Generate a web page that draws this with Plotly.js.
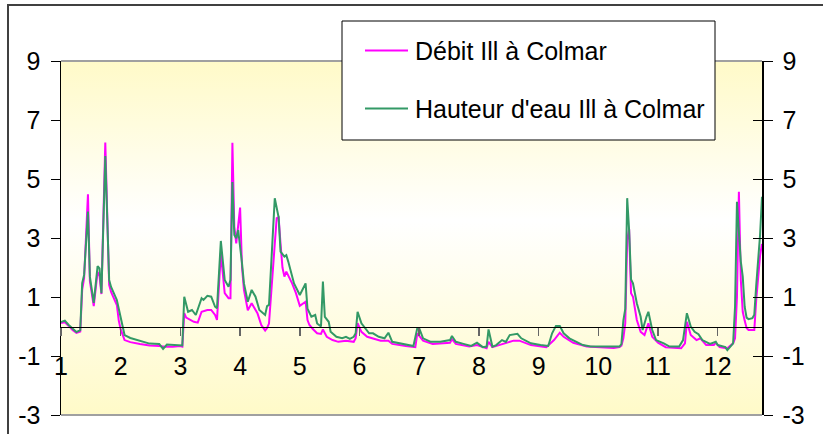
<!DOCTYPE html>
<html>
<head>
<meta charset="utf-8">
<script src="https://cdn.plot.ly/plotly-3.0.1.min.js"></script>
<style>
  html, body { margin: 0; padding: 0; background: #ffffff; }
  #wrap { position: relative; width: 823px; height: 434px; overflow: hidden; }
  #chart { position: absolute; left: 0; top: 0; width: 823px; height: 434px; }
  #frame { position: absolute; left: 7px; top: 4px; width: 1000px; height: 1000px;
           border: 2px solid #404040; box-sizing: border-box; pointer-events: none; }
</style>
</head>
<body>
<div id="wrap"><div id="chart"></div><div id="frame"></div></div>
<script>
// ---- Data (day of year) ----
const monthTicks  = [1, 32, 63, 94, 125, 156, 187, 218, 249, 280, 311, 342];
const monthLabels = ['1','2','3','4','5','6','7','8','9','10','11','12'];

const seriesNames = ['Débit Ill à Colmar', "Hauteur d'eau Ill à Colmar"];

const daysDebit = [1,3,5,7,9,11,12,13,15,16,18,20,21,22,24,26,27,30,31,32,34,37,42,47,52,55,59,63,64,65,66,68,70,72,73,74,77,79,81,82,84,86,88,89,90,91,92,94,95,96,98,100,103,105,107,108,109,110,111,112,113,114,115,116,117,118,121,123,125,128,129,130,132,134,136,137,139,142,145,149,153,154,155,157,160,163,167,171,173,180,185,186,189,194,203,204,206,213,217,222,223,225,231,236,239,245,253,257,260,262,267,274,281,288,291,292,293,294,295,296,297,298,300,302,304,306,308,311,315,323,325,326,328,331,333,336,340,341,343,347,350,351,352,353,354,355,356,357,358,361,362,363,364,365];
const debit = [0.12,0.14,0.02,-0.12,-0.22,-0.17,1.24,1.64,4.48,1.54,0.69,1.85,1.71,1.1,6.24,1.41,1.17,0.73,0.2,-0.1,-0.46,-0.53,-0.59,-0.64,-0.66,-0.69,-0.69,-0.66,-0.68,0.45,0.3,0.22,0.16,0.13,0.35,0.5,0.56,0.56,0.39,0.22,2.48,1.13,0.96,0.96,6.23,3.38,2.82,4.03,2.0,1.24,0.55,0.79,0.45,0.05,-0.14,-0.05,0.1,0.9,1.7,2.8,3.67,3.7,2.8,2.0,1.69,1.86,1.46,1.13,0.7,0.84,0.22,0.05,-0.1,-0.23,-0.25,-0.1,-0.35,-0.46,-0.52,-0.48,-0.52,-0.4,0.11,-0.18,-0.35,-0.4,-0.48,-0.48,-0.59,-0.66,-0.7,-0.23,-0.48,-0.59,-0.55,-0.43,-0.59,-0.68,-0.63,-0.74,-0.52,-0.7,-0.59,-0.48,-0.48,-0.63,-0.7,-0.46,-0.21,-0.35,-0.55,-0.68,-0.7,-0.73,-0.7,-0.65,-0.4,0.11,2.93,3.3,1.13,1.01,0.22,-0.18,-0.29,0.11,-0.35,-0.55,-0.7,-0.74,-0.57,0.16,-0.29,-0.46,-0.4,-0.63,-0.63,-0.55,-0.7,-0.74,-0.57,-0.4,1.0,4.57,1.58,0.5,0.2,-0.05,-0.12,-0.12,0.9,1.7,2.4,2.8];

const daysHauteur = [1,3,5,7,9,11,12,13,15,16,18,20,21,22,24,26,27,30,32,34,37,42,47,52,54,56,60,64,65,67,69,71,74,75,77,79,81,82,84,86,88,89,90,91,92,93,95,96,98,100,102,104,107,108,109,112,114,115,117,118,119,122,125,128,129,131,133,134,136,137,138,140,141,144,147,149,151,153,154,155,157,159,161,163,166,169,171,173,177,180,184,186,187,189,193,198,203,204,206,210,214,217,220,222,223,225,227,230,232,234,238,240,245,250,254,256,258,260,262,265,269,272,276,281,288,291,292,293,294,295,296,297,298,300,302,303,305,306,308,310,314,317,322,324,326,328,330,332,334,338,341,342,346,347,350,351,352,353,354,355,356,357,358,360,361,362,363,364,365];
const hauteur = [0.15,0.2,0.05,-0.08,-0.19,-0.12,1.47,1.75,3.9,1.69,0.8,2.05,1.97,1.13,5.78,1.58,1.34,0.9,0.29,-0.29,-0.39,-0.49,-0.58,-0.59,-0.76,-0.61,-0.63,-0.64,1.01,0.5,0.56,0.39,0.96,0.9,1.04,1.01,0.67,0.62,2.9,1.58,1.35,1.58,4.9,3.1,2.99,3.27,2.14,1.46,0.84,1.24,1.01,0.56,0.39,0.69,0.73,4.35,3.7,2.54,2.37,2.42,2.2,1.46,1.07,1.46,0.6,0.33,0.39,0.1,0.0,1.52,0.33,0.16,-0.18,-0.35,-0.4,-0.35,-0.42,-0.35,-0.23,0.5,0.11,-0.06,-0.23,-0.23,-0.35,-0.4,-0.21,-0.52,-0.57,-0.63,-0.66,-0.06,-0.06,-0.4,-0.52,-0.52,-0.46,-0.32,-0.52,-0.59,-0.66,-0.55,-0.7,-0.68,-0.1,-0.68,-0.63,-0.46,-0.52,-0.29,-0.25,-0.4,-0.57,-0.63,-0.66,-0.23,0.02,0.02,-0.23,-0.4,-0.52,-0.63,-0.68,-0.68,-0.7,-0.68,-0.6,0.2,0.6,4.35,3.27,1.6,1.46,0.79,0.33,-0.12,0.33,0.5,-0.12,-0.46,-0.57,-0.68,-0.68,-0.46,0.45,0.0,-0.18,-0.26,-0.46,-0.59,-0.52,-0.63,-0.7,-0.8,-0.57,0.67,4.23,3.04,2.2,1.69,0.67,0.3,0.25,0.28,0.4,1.4,2.2,3.1,4.4];

const yTicks = [-3, -1, 1, 3, 5, 7, 9];
const yTickLabels = ['-3', '-1', '1', '3', '5', '7', '9'];

// ---- Styling / layout ----
const FONT = '"Liberation Sans", Arial, sans-serif';
const FS = 25;
const MAGENTA = '#FF00FF';
const GREEN = '#339966';

// plot area in pixels
const L = 61, R = 762, T = 61, B = 415;
const px = v => (v - L) / (R - L);
const py = v => (B - v) / (B - T);

const gradSvg = "<svg xmlns='http://www.w3.org/2000/svg' width='100' height='100' preserveAspectRatio='none'>" +
  "<defs><linearGradient id='g' x1='0' y1='0' x2='0' y2='1'>" +
  "<stop offset='0' stop-color='#FFFAC8'/><stop offset='0.45' stop-color='#FFFFFF'/>" +
  "<stop offset='1' stop-color='#FFFAC8'/></linearGradient></defs>" +
  "<rect width='100' height='100' fill='url(#g)'/></svg>";

const traces = [
  { x: daysDebit, y: debit, name: seriesNames[0], type: 'scatter', mode: 'lines',
    line: { color: MAGENTA, width: 2 }, yaxis: 'y', hoverinfo: 'skip' },
  { x: daysHauteur, y: hauteur, name: seriesNames[1], type: 'scatter', mode: 'lines',
    line: { color: GREEN, width: 2 }, yaxis: 'y2', hoverinfo: 'skip' }
];

const layout = {
  width: 823, height: 434,
  margin: { l: L, r: 823 - R, t: T, b: 434 - B, pad: 0 },
  paper_bgcolor: 'rgba(0,0,0,0)',
  plot_bgcolor: 'rgba(0,0,0,0)',
  showlegend: false,
  font: { family: FONT, size: FS, color: '#000' },
  xaxis: {
    range: [1, 365], tickmode: 'array', tickvals: monthTicks, ticktext: monthLabels,
    anchor: 'free', position: 0.25,
    showline: true, linecolor: '#000', linewidth: 1.2,
    ticks: 'outside', ticklen: 8, tickcolor: '#666', tickwidth: 1.5,
    ticklabelstandoff: 9,
    tickfont: { family: FONT, size: FS, color: '#000' },
    showgrid: false, zeroline: false, fixedrange: true
  },
  yaxis: {
    range: [-3, 9], tickmode: 'array', tickvals: yTicks, ticktext: yTickLabels,
    showline: true, linecolor: '#000', linewidth: 1.5,
    ticks: 'outside', ticklen: 9, tickcolor: '#000', tickwidth: 1,
    ticklabelstandoff: 5,
    tickfont: { family: FONT, size: FS, color: '#000' },
    showgrid: false, zeroline: false, fixedrange: true
  },
  yaxis2: {
    range: [-3, 9], tickmode: 'array', tickvals: yTicks, ticktext: yTickLabels,
    overlaying: 'y', side: 'right',
    showline: true, linecolor: '#000', linewidth: 1.5,
    ticks: 'outside', ticklen: 9, tickcolor: '#000', tickwidth: 1,
    ticklabelstandoff: 5,
    tickfont: { family: FONT, size: FS, color: '#000' },
    showgrid: false, zeroline: false, fixedrange: true
  },
  yaxis3: {
    range: [-3, 9], tickmode: 'array', tickvals: yTicks, overlaying: 'y', side: 'right',
    showline: false, ticks: 'inside', ticklen: 9, tickcolor: '#000', tickwidth: 1,
    showticklabels: false, showgrid: false, zeroline: false, fixedrange: true
  },
  images: [{
    source: 'data:image/svg+xml;charset=utf-8,' + encodeURIComponent(gradSvg),
    xref: 'paper', yref: 'paper', x: 0, y: 1, sizex: 1, sizey: 1,
    sizing: 'stretch', xanchor: 'left', yanchor: 'top', layer: 'below'
  }],
  shapes: [
    { type: 'line', xref: 'paper', yref: 'paper', x0: 0, x1: 1, y0: 1, y1: 1,
      line: { color: '#A0A0A0', width: 2 } },
    { type: 'line', xref: 'paper', yref: 'paper', x0: 0, x1: 1, y0: 0, y1: 0,
      line: { color: '#A0A0A0', width: 2 } },
    // legend box
    { type: 'rect', xref: 'paper', yref: 'paper', layer: 'above',
      x0: px(342), x1: px(715), y0: py(140), y1: py(21),
      fillcolor: '#FFFFFF', line: { color: '#000', width: 1 } },
    { type: 'line', xref: 'paper', yref: 'paper', layer: 'above',
      x0: px(365), x1: px(408), y0: py(50.5), y1: py(50.5),
      line: { color: MAGENTA, width: 2 } },
    { type: 'line', xref: 'paper', yref: 'paper', layer: 'above',
      x0: px(365), x1: px(408), y0: py(108.5), y1: py(108.5),
      line: { color: GREEN, width: 2 } }
  ],
  annotations: [
    { xref: 'paper', yref: 'paper', x: px(413), y: py(50.5), xanchor: 'left', yanchor: 'middle',
      text: seriesNames[0], showarrow: false, font: { family: FONT, size: FS, color: '#000' } },
    { xref: 'paper', yref: 'paper', x: px(413), y: py(108.5), xanchor: 'left', yanchor: 'middle',
      text: seriesNames[1], showarrow: false, font: { family: FONT, size: FS, color: '#000' } }
  ]
};

// invisible trace to activate yaxis3 (inside tick marks on the right axis)
traces.push({ x: [1], y: [0], yaxis: 'y3', mode: 'markers', marker: { opacity: 0 },
  showlegend: false, hoverinfo: 'skip' });

Plotly.newPlot('chart', traces, layout, { staticPlot: true, displayModeBar: false });
</script>
</body>
</html>
